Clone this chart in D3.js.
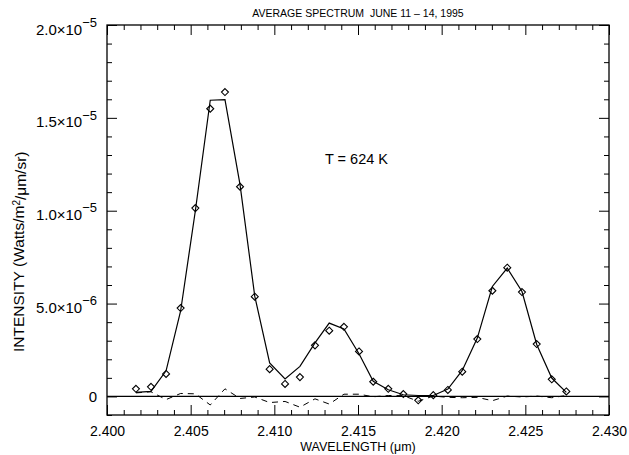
<!DOCTYPE html>
<html><head><meta charset="utf-8">
<script src="https://cdn.jsdelivr.net/npm/d3@7"></script>
<style>body{margin:0;background:#fff}svg{display:block}text{font-family:"Liberation Sans",Arial,sans-serif;fill:#000}</style>
</head><body>
<script>
// Wavelength (µm) of each measured point
const wavelength = [2.40173,2.40263,2.40353,2.40440,2.40528,2.40617,2.40705,2.40795,2.40883,2.40972,
  2.41064,2.41153,2.41243,2.41328,2.41416,2.41506,2.41591,2.41681,2.41771,2.41860,
  2.41950,2.42037,2.42123,2.42213,2.42303,2.42392,2.42480,2.42568,2.42658,2.42745];
// Measured intensity (units of 1e-6 W/m2/µm/sr)
const observed = [0.41,0.52,1.21,4.76,10.14,15.49,16.39,11.29,5.37,1.47,
  0.67,1.04,2.75,3.54,3.75,2.42,0.79,0.41,0.13,-0.21,
  0.07,0.35,1.33,3.09,5.69,6.93,5.62,2.82,0.92,0.27];
// Model fit (T = 624 K)
const model = [0.22,0.27,1.38,4.60,10.00,15.95,15.98,11.40,5.40,1.80,
  0.94,1.62,2.88,3.95,3.63,2.30,0.81,0.36,0.09,0.05,
  0.05,0.40,1.40,3.14,5.92,6.91,5.65,2.80,0.99,0.22];
// Residual (observed - model)
const residual = [0.19,0.25,-0.17,0.16,0.14,-0.46,0.41,-0.11,-0.03,-0.33,
  -0.27,-0.58,-0.13,-0.41,0.12,0.12,-0.02,0.05,0.04,-0.26,
  0.02,-0.05,-0.07,-0.05,-0.23,0.02,-0.03,0.02,-0.07,0.05];
const xMajor = [2.400,2.405,2.410,2.415,2.420,2.425,2.430];
const xLabels = ["2.400","2.405","2.410","2.415","2.420","2.425","2.430"];
const yMajor = [0,5e-6,1e-5,1.5e-5,2e-5];
const yMantissa = ["0","5.0","1.0","1.5","2.0"];
const yExponent = ["","6","5","5","5"];
const title = "AVERAGE SPECTRUM  JUNE 11 \u2013 14, 1995";
const annotation = "T = 624 K";

const W = 629, H = 455;
const svg = d3.select("body").append("svg").attr("width", W).attr("height", H);
svg.append("rect").attr("width", W).attr("height", H).attr("fill", "#fff");

const x = d3.scaleLinear().domain([2.400, 2.430]).range([107, 609]);
const y = d3.scaleLinear().domain([-1e-6, 2e-5]).range([415, 25]);

const xMinor = d3.range(0, 31).map(i => 2.400 + i * 0.001).filter(v => !xMajor.some(m => Math.abs(m - v) < 1e-9));
const yMinor = d3.range(-1, 21).map(i => i * 1e-6).filter(v => !yMajor.some(m => Math.abs(m - v) < 1e-12));

function styleAxis(g) {
  g.select(".domain").remove();
  g.selectAll("line").attr("stroke", "#000").attr("stroke-width", 1);
}
// bottom
svg.append("g").attr("transform", `translate(0,${y.range()[0]})`)
  .call(d3.axisBottom(x).tickValues(xMajor).tickSize(-10).tickSizeOuter(0).tickPadding(11)
    .tickFormat((d, i) => xLabels[i]))
  .call(styleAxis)
  .call(g => g.selectAll("text").attr("font-size", 14).attr("font-family", "Liberation Sans"));
svg.append("g").attr("transform", `translate(0,${y.range()[0]})`)
  .call(d3.axisBottom(x).tickValues(xMinor).tickSize(-5).tickSizeOuter(0).tickFormat(""))
  .call(styleAxis);
// top
svg.append("g").attr("transform", `translate(0,${y.range()[1]})`)
  .call(d3.axisTop(x).tickValues(xMajor).tickSize(-10).tickSizeOuter(0).tickFormat(""))
  .call(styleAxis);
svg.append("g").attr("transform", `translate(0,${y.range()[1]})`)
  .call(d3.axisTop(x).tickValues(xMinor).tickSize(-5).tickSizeOuter(0).tickFormat(""))
  .call(styleAxis);
// left
svg.append("g").attr("transform", `translate(${x.range()[0]},0)`)
  .call(d3.axisLeft(y).tickValues(yMajor).tickSize(-10).tickSizeOuter(0).tickPadding(10).tickFormat(""))
  .call(styleAxis)
  .call(g => g.selectAll(".tick text").each(function(d, i) {
    const t = d3.select(this).attr("font-size", 15).attr("dy", "0.35em");
    t.text(null);
    if (yExponent[i] === "") { t.text(yMantissa[i]); return; }
    t.attr("dy", "0.6em");
    t.append("tspan").text(yMantissa[i] + "\u00d710");
    t.append("tspan").attr("dy", "-0.6em").attr("font-size", 13).text("\u2212" + yExponent[i]);
  }));
svg.append("g").attr("transform", `translate(${x.range()[0]},0)`)
  .call(d3.axisLeft(y).tickValues(yMinor).tickSize(-5).tickSizeOuter(0).tickFormat(""))
  .call(styleAxis);
// right
svg.append("g").attr("transform", `translate(${x.range()[1]},0)`)
  .call(d3.axisRight(y).tickValues(yMajor).tickSize(-10).tickSizeOuter(0).tickFormat(""))
  .call(styleAxis);
svg.append("g").attr("transform", `translate(${x.range()[1]},0)`)
  .call(d3.axisRight(y).tickValues(yMinor).tickSize(-5).tickSizeOuter(0).tickFormat(""))
  .call(styleAxis);

// frame
svg.append("rect").attr("x", x.range()[0]).attr("y", y.range()[1])
  .attr("width", x.range()[1] - x.range()[0]).attr("height", y.range()[0] - y.range()[1])
  .attr("fill", "none").attr("stroke", "#000").attr("stroke-width", 1.3);

// zero line
svg.append("line").attr("x1", x.range()[0]).attr("x2", x.range()[1])
  .attr("y1", y(0)).attr("y2", y(0)).attr("stroke", "#000").attr("stroke-width", 1.2);

const pts = wavelength.map((w, i) => ({w, o: observed[i] * 1e-6, m: model[i] * 1e-6, r: residual[i] * 1e-6}));

// model line
svg.append("path").datum(pts)
  .attr("d", d3.line().x(d => x(d.w)).y(d => y(d.m)))
  .attr("fill", "none").attr("stroke", "#000").attr("stroke-width", 1.2);
// residual dashed
svg.append("path").datum(pts)
  .attr("d", d3.line().x(d => x(d.w)).y(d => y(d.r)))
  .attr("fill", "none").attr("stroke", "#000").attr("stroke-width", 1).attr("stroke-dasharray", "6,5");
// diamonds
svg.append("g").selectAll("path").data(pts).join("path")
  .attr("d", d => { const cx = x(d.w), cy = y(d.o), s = 3.5;
    return `M${cx},${cy - s}L${cx + s},${cy}L${cx},${cy + s}L${cx - s},${cy}Z`; })
  .attr("fill", "none").attr("stroke", "#000").attr("stroke-width", 1.1);

// title
svg.append("text").attr("x", 358).attr("y", 17).attr("text-anchor", "middle")
  .style("white-space", "pre").attr("font-size", 10.5).text(title);
// annotation
svg.append("text").attr("x", 325).attr("y", 164).attr("font-size", 14.5)
  .attr("font-family", "DejaVu Sans").text(annotation);
// x title
svg.append("text").attr("x", 358).attr("y", 451).attr("text-anchor", "middle")
  .attr("font-size", 12.5).attr("font-family", "DejaVu Sans").text("WAVELENGTH (\u03bcm)");
// y title
const yt = svg.append("text").attr("transform", "translate(24,352) rotate(-90)")
  .attr("text-anchor", "start").attr("font-size", 15.5);
yt.append("tspan").text("INTENSITY (Watts/m");
yt.append("tspan").attr("dy", "-0.45em").attr("font-size", 10).text("2");
yt.append("tspan").attr("dy", "0.45em").text("/\u03bcm/sr)");
</script>
</body></html>
